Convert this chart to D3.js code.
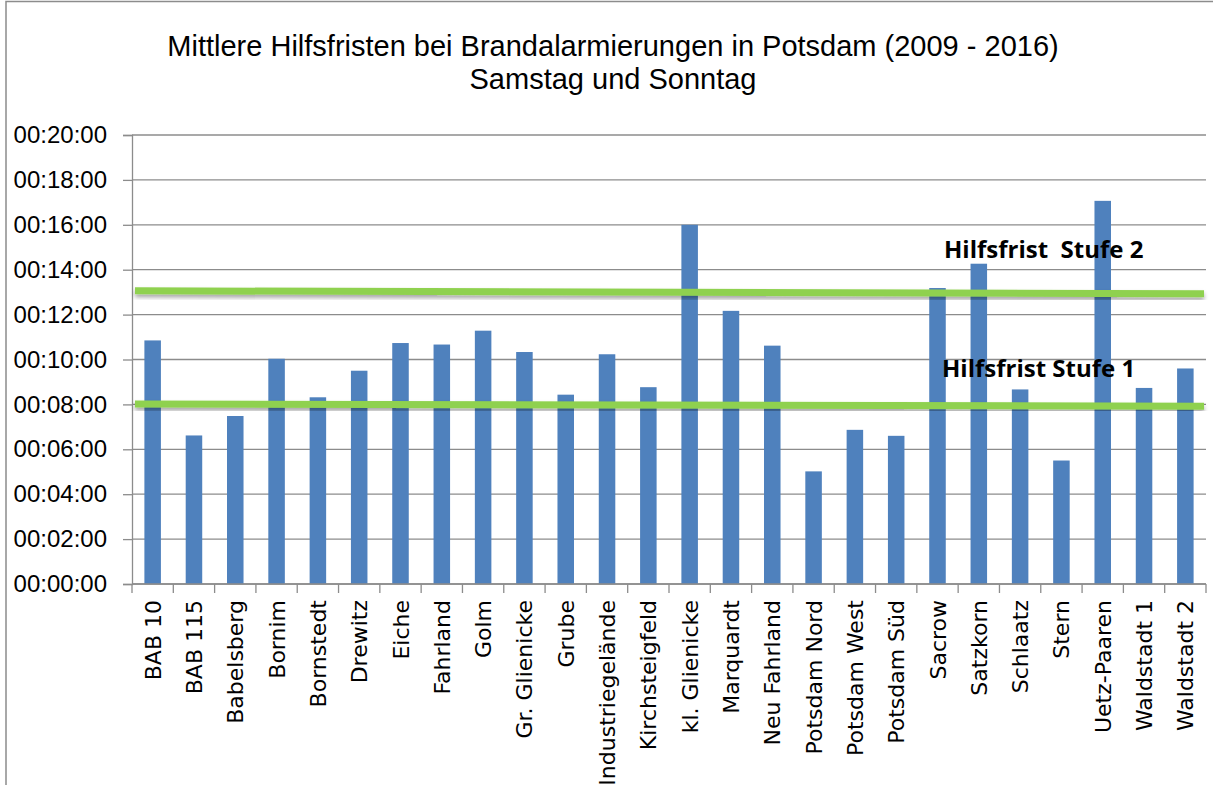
<!DOCTYPE html>
<html>
<head>
<meta charset="utf-8">
<script src="https://cdn.jsdelivr.net/npm/d3@7"></script>
<style>
  html, body { margin: 0; padding: 0; background: #fff; }
  svg { display: block; }
</style>
</head>
<body>
<div id="chart"></div>
<script>
// Data (mm:ss, mean response time)
const categories = ['BAB 10', 'BAB 115', 'Babelsberg', 'Bornim', 'Bornstedt', 'Drewitz', 'Eiche',
  'Fahrland', 'Golm', 'Gr. Glienicke', 'Grube', 'Industriegelände', 'Kirchsteigfeld', 'kl. Glienicke',
  'Marquardt', 'Neu Fahrland', 'Potsdam Nord', 'Potsdam West', 'Potsdam Süd', 'Sacrow', 'Satzkorn',
  'Schlaatz', 'Stern', 'Uetz-Paaren', 'Waldstadt 1', 'Waldstadt 2'];
const times = ['10:51', '06:37', '07:29', '10:02', '08:19', '09:30', '10:44',
  '10:40', '11:17', '10:20', '08:26', '10:14', '08:46', '16:00',
  '12:10', '10:37', '05:01', '06:52', '06:36', '13:11', '14:16',
  '08:40', '05:30', '17:04', '08:44', '09:36'];
const yTicks = [0, 2, 4, 6, 8, 10, 12, 14, 16, 18, 20];
// Hilfsfrist lines: value at left end, value at right end (minutes)
const limitNames = ['Hilfsfrist Stufe 1', 'Hilfsfrist  Stufe 2'];
const limitStart = [8.02, 13.06];
const limitEnd = [7.92, 12.93];

const toMin = s => { const [m, sec] = s.split(':').map(Number); return m + sec / 60; };
const values = times.map(toMin);

const width = 1213, height = 785;
const margin = { top: 135, left: 132, right: 7, bottom: 201 };

const svg = d3.select('#chart').append('svg')
  .attr('width', width)
  .attr('height', height)
  .style('font-family', '"Liberation Sans", Arial, sans-serif');

const defs = svg.append('defs');
defs.append('filter')
  .attr('id', 'shadow')
  .attr('x', '-5%').attr('y', '-200%').attr('width', '110%').attr('height', '500%')
  .append('feDropShadow')
  .attr('dx', 0).attr('dy', 3).attr('stdDeviation', 2)
  .attr('flood-color', '#000').attr('flood-opacity', 0.35);

// outer border of the chart area
svg.append('path')
  .attr('d', `M6,${height} V1.5 H${width}`)
  .attr('fill', 'none')
  .attr('stroke', '#8c8c8c')
  .attr('stroke-width', 1.5);

// Title
svg.append('text')
  .attr('x', 613).attr('y', 56)
  .attr('text-anchor', 'middle')
  .style('font-size', '29px')
  .attr('fill', '#000')
  .text('Mittlere Hilfsfristen bei Brandalarmierungen in Potsdam (2009 - 2016)');
svg.append('text')
  .attr('x', 613).attr('y', 89)
  .attr('text-anchor', 'middle')
  .style('font-size', '29px')
  .attr('fill', '#000')
  .text('Samstag und Sonntag');

const x = d3.scaleBand()
  .domain(categories)
  .range([margin.left, width - margin.right])
  .paddingInner(0.6)
  .paddingOuter(0.3);

const y = d3.scaleLinear()
  .domain([0, 20])
  .range([height - margin.bottom, margin.top]);

// Gridlines
svg.append('g')
  .selectAll('line')
  .data(yTicks)
  .enter()
  .append('line')
  .attr('x1', margin.left)
  .attr('x2', width - margin.right)
  .attr('y1', d => y(d))
  .attr('y2', d => y(d))
  .attr('stroke', '#8c8c8c')
  .attr('stroke-width', 1.3);

// Bars
svg.append('g')
  .selectAll('rect')
  .data(categories)
  .enter()
  .append('rect')
  .attr('x', d => x(d))
  .attr('width', x.bandwidth())
  .attr('y', (d, i) => y(values[i]))
  .attr('height', (d, i) => y(0) - y(values[i]))
  .attr('fill', '#4f81bd');

// Y axis
const yAxis = svg.append('g')
  .attr('transform', `translate(${margin.left},0)`)
  .call(d3.axisLeft(y)
    .tickValues(yTicks)
    .tickSize(9)
    .tickPadding(16)
    .tickFormat(d => `00:${String(d).padStart(2, '0')}:00`));
yAxis.select('.domain').attr('stroke', '#8c8c8c').attr('stroke-width', 1.3);
yAxis.selectAll('.tick line').attr('stroke', '#8c8c8c').attr('stroke-width', 1.3);
yAxis.selectAll('.tick text')
  .style('font-size', '24px')
  .style('font-family', '"Liberation Sans", Arial, sans-serif')
  .attr('fill', '#000');

// X axis (ticks between categories)
const step = x.step();
const boundaries = d3.range(categories.length + 1).map(i => margin.left + i * step);
svg.append('g')
  .selectAll('line')
  .data(boundaries)
  .enter()
  .append('line')
  .attr('x1', d => d).attr('x2', d => d)
  .attr('y1', y(0)).attr('y2', y(0) + 9)
  .attr('stroke', '#8c8c8c')
  .attr('stroke-width', 1.3);
svg.append('line')
  .attr('x1', margin.left).attr('x2', width - margin.right)
  .attr('y1', y(0)).attr('y2', y(0))
  .attr('stroke', '#8c8c8c')
  .attr('stroke-width', 1.3);

svg.append('g')
  .selectAll('text')
  .data(categories)
  .enter()
  .append('text')
  .attr('transform', d => `translate(${x(d) + x.bandwidth() / 2 + 8},${y(0) + 16}) rotate(-90)`)
  .attr('text-anchor', 'end')
  .style('font-family', '"DejaVu Sans", Verdana, sans-serif')
  .style('font-size', '22px')
  .attr('fill', '#000')
  .text(d => d);

// Hilfsfrist lines
const lineX0 = margin.left + 3, lineX1 = width - margin.right - 2;
svg.append('g')
  .selectAll('line')
  .data(limitNames)
  .enter()
  .append('line')
  .attr('x1', lineX0).attr('x2', lineX1)
  .attr('y1', (d, i) => y(limitStart[i]))
  .attr('y2', (d, i) => y(limitEnd[i]))
  .attr('stroke', '#8fd14f')
  .attr('stroke-width', 7)
  .attr('filter', 'url(#shadow)');

// Hilfsfrist labels
const labelX = [942, 944];
const labelY = [377, 258];
svg.append('g')
  .selectAll('text')
  .data(limitNames)
  .enter()
  .append('text')
  .attr('x', (d, i) => labelX[i])
  .attr('y', (d, i) => labelY[i])
  .style('font-family', '"Open Sans", Lato, sans-serif')
  .style('font-weight', 'bold')
  .style('font-size', '24px')
  .style('white-space', 'pre')
  .attr('fill', '#000')
  .text(d => d);
</script>
</body>
</html>
